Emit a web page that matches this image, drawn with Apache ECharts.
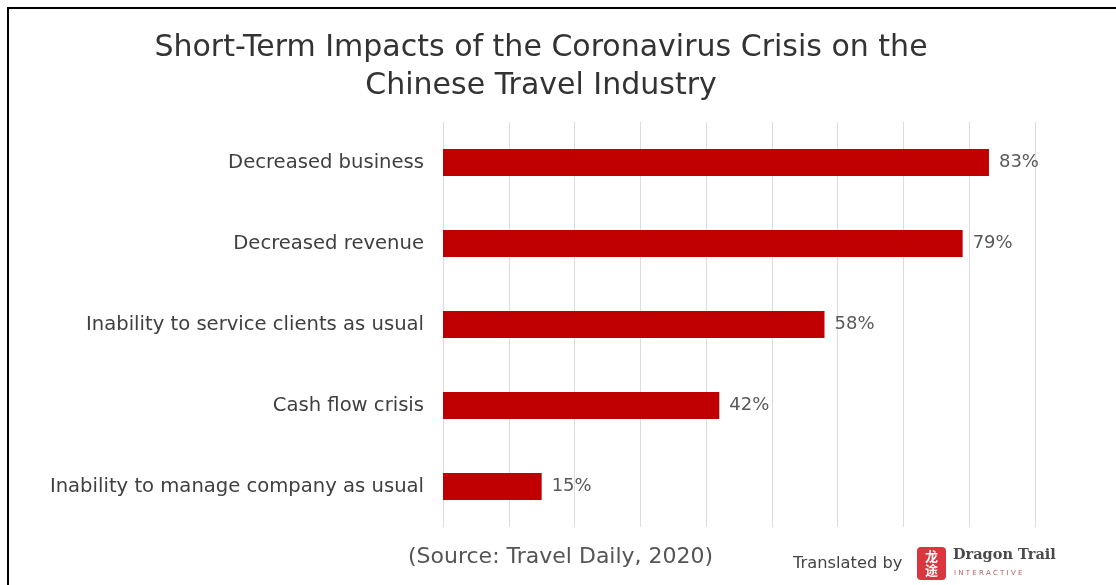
<!DOCTYPE html>
<html>
<head>
<meta charset="utf-8">
<script src="https://cdn.jsdelivr.net/npm/echarts@6/dist/echarts.min.js"></script>
<style>
  html, body { margin: 0; padding: 0; background: #ffffff; }
  #chart { width: 1116px; height: 585px; }
</style>
</head>
<body>
<div id="chart"></div>
<script>
// Survey results: share of respondents reporting each impact (%)
const categories = [
  'Decreased business',
  'Decreased revenue',
  'Inability to service clients as usual',
  'Cash flow crisis',
  'Inability to manage company as usual'
];
const shares = [83, 79, 58, 42, 15];

const titleLines = [
  'Short-Term Impacts of the Coronavirus Crisis on the',
  'Chinese Travel Industry'
];
const sourceNote = '(Source: Travel Daily, 2020)';

const FONT = '"DejaVu Sans", "Noto Sans", sans-serif';

const chart = echarts.init(document.getElementById('chart'), null, { renderer: 'canvas' });

chart.setOption({
  backgroundColor: '#ffffff',
  animation: false,
  title: {
    text: titleLines.join('\n'),
    left: 536,
    textAlign: 'center',
    top: 24,
    textStyle: {
      fontFamily: FONT,
      fontSize: 30,
      fontWeight: 'normal',
      color: '#333333',
      lineHeight: 38
    }
  },
  grid: {
    left: 443,
    top: 122,
    width: 592,
    height: 405,
    containLabel: false
  },
  xAxis: {
    type: 'value',
    min: 0,
    max: 90,
    interval: 10,
    axisLine: { show: false },
    axisTick: { show: false },
    axisLabel: { show: false },
    splitLine: { show: true, lineStyle: { color: '#dcdcdc', width: 1 } }
  },
  yAxis: {
    type: 'category',
    data: categories,
    inverse: true,
    axisLine: { show: false },
    axisTick: { show: false },
    axisLabel: {
      margin: 19,
      fontFamily: FONT,
      fontSize: 19.6,
      color: '#404040',
      padding: [9, 0, 0, 0]
    }
  },
  series: [{
    type: 'bar',
    data: shares,
    barWidth: 27,
    itemStyle: { color: '#c00000' },
    label: {
      show: true,
      position: 'right',
      distance: 10,
      formatter: '{c}%',
      fontFamily: FONT,
      fontSize: 18,
      color: '#595959',
      padding: [7, 0, 0, 0]
    }
  }],
  graphic: [
    // outer frame
    {
      type: 'rect',
      shape: { x: 8, y: 8, width: 1140, height: 620 },
      style: { fill: null, stroke: '#000000', lineWidth: 2 },
      silent: true
    },
    {
      type: 'text',
      left: 408,
      top: 546,
      style: {
        text: sourceNote,
        fontFamily: FONT,
        fontSize: 22,
        fill: '#555555'
      }
    },
    {
      type: 'text',
      left: 793,
      top: 556,
      style: {
        text: 'Translated by',
        fontFamily: FONT,
        fontSize: 16.3,
        fill: '#444444'
      }
    },
    // logo mark
    {
      type: 'rect',
      shape: { x: 917, y: 547, width: 29, height: 33, r: 4 },
      style: { fill: '#d9363e' }
    },
    {
      type: 'text',
      x: 931.5,
      y: 563.5,
      style: {
        text: '龙\n途',
        fontFamily: '"Noto Sans CJK SC", sans-serif',
        fontSize: 13,
        lineHeight: 14,
        fontWeight: 'bold',
        fill: '#ffffff',
        align: 'center',
        verticalAlign: 'middle'
      }
    },
    {
      type: 'text',
      left: 953,
      top: 548,
      style: {
        text: 'Dragon Trail',
        fontFamily: '"DejaVu Serif", "Liberation Serif", serif',
        fontSize: 14.5,
        fontWeight: 'bold',
        fill: '#4a4a4a'
      }
    },
    {
      type: 'text',
      left: 954,
      top: 570,
      style: {
        text: 'I N T E R A C T I V E',
        fontFamily: FONT,
        fontSize: 7,
        fill: '#b06060'
      }
    }
  ]
});
</script>
</body>
</html>
